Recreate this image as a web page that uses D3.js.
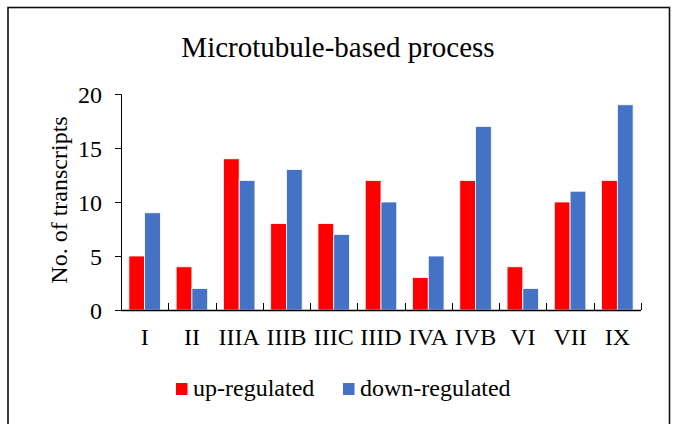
<!DOCTYPE html>
<html>
<head>
<meta charset="utf-8">
<script src="https://cdn.jsdelivr.net/npm/d3@7"></script>
<style>
  html, body { margin: 0; padding: 0; background: #fff; }
  svg { display: block; }
</style>
</head>
<body>
<svg id="chart" width="678" height="424"></svg>
<script>
// Transcript counts per group
const categories = ["I", "II", "IIIA", "IIIB", "IIIC", "IIID", "IVA", "IVB", "VI", "VII", "IX"];
const upRegulated   = [5, 4, 14, 8, 8, 12, 3, 12, 4, 10, 12];
const downRegulated = [9, 2, 12, 13, 7, 10, 5, 17, 2, 11, 19];
const seriesNames   = ["up-regulated", "down-regulated"];
const seriesColors  = ["#FF0000", "#4472C4"];
const yTicks        = [0, 5, 10, 15, 20];
const titleText     = "Microtubule-based process";
const yAxisTitle    = "No. of transcripts";

const FONT = "'Liberation Serif', Tinos, 'Times New Roman', serif";

const svg = d3.select("#chart");
const plot = { left: 121, right: 641, top: 94, bottom: 310 };

// outer frame (runs past the bottom edge)
svg.append("rect")
  .attr("x", 8).attr("y", 7.5)
  .attr("width", 661.5).attr("height", 440)
  .attr("fill", "none").attr("stroke", "#111").attr("stroke-width", 1.6);

svg.append("text")
  .attr("x", 338).attr("y", 56.5)
  .attr("text-anchor", "middle")
  .attr("font-family", FONT)
  .attr("font-size", 29)
  .text(titleText);

const x0 = d3.scaleBand().domain(categories).range([plot.left, plot.right]).paddingInner(0).paddingOuter(0);
const bw = x0.bandwidth();
const x1 = d3.scaleBand().domain(seriesNames).range([bw / 6, bw * 5 / 6]).padding(0);
const y = d3.scaleLinear().domain([0, 20]).range([plot.bottom, plot.top]);

// bars
const rows = categories.map((c, i) => ({ cat: c, vals: [upRegulated[i], downRegulated[i]] }));
const g = svg.append("g");
rows.forEach(r => {
  r.vals.forEach((v, j) => {
    g.append("rect")
      .attr("x", x0(r.cat) + x1(seriesNames[j]))
      .attr("y", y(v))
      .attr("width", x1.bandwidth())
      .attr("height", y(0) - y(v))
      .attr("fill", seriesColors[j])
      .attr("stroke", "#fff")
      .attr("stroke-width", 0.8);
  });
});

// y axis
const yAxis = d3.axisLeft(y).tickValues(yTicks).tickSize(6).tickPadding(13).tickFormat(d3.format("d"));
const ya = svg.append("g").attr("transform", `translate(${plot.left},0)`).call(yAxis)
  .attr("font-family", FONT).attr("font-size", 24);
ya.select(".domain").attr("stroke", "#000").attr("d", `M-6,${plot.top + 0.5}H0.5V${plot.bottom}`);
ya.selectAll(".tick line").attr("stroke", "#000");
ya.selectAll(".tick text").attr("fill", "#000").attr("dy", "0.35em");

// x axis: baseline with inside ticks on category boundaries
const xa = svg.append("g").attr("font-family", FONT).attr("font-size", 24);
xa.append("line")
  .attr("x1", plot.left).attr("x2", plot.right)
  .attr("y1", plot.bottom + 0.5).attr("y2", plot.bottom + 0.5)
  .attr("stroke", "#000").attr("stroke-width", 1.5);
const bounds = categories.map(c => x0(c)).concat([plot.right]);
xa.selectAll("line.b").data(bounds).enter().append("line")
  .attr("class", "b")
  .attr("x1", d => Math.round(d) + 0.5).attr("x2", d => Math.round(d) + 0.5)
  .attr("y1", plot.bottom - 7).attr("y2", plot.bottom)
  .attr("stroke", "#000");
xa.selectAll("text").data(categories).enter().append("text")
  .attr("x", d => x0(d) + bw / 2)
  .attr("y", 345)
  .attr("text-anchor", "middle")
  .text(d => d);

// y axis title
svg.append("text")
  .attr("transform", `translate(67,200) rotate(-90)`)
  .attr("text-anchor", "middle")
  .attr("font-family", FONT).attr("font-size", 24)
  .text(yAxisTitle);

// legend
const legendX = [176, 343];
seriesNames.forEach((s, j) => {
  svg.append("rect")
    .attr("x", legendX[j]).attr("y", 383)
    .attr("width", 11.5).attr("height", 12)
    .attr("fill", seriesColors[j]);
  svg.append("text")
    .attr("x", legendX[j] + 17).attr("y", 396)
    .attr("font-family", FONT).attr("font-size", 24)
    .text(s);
});
</script>
</body>
</html>
